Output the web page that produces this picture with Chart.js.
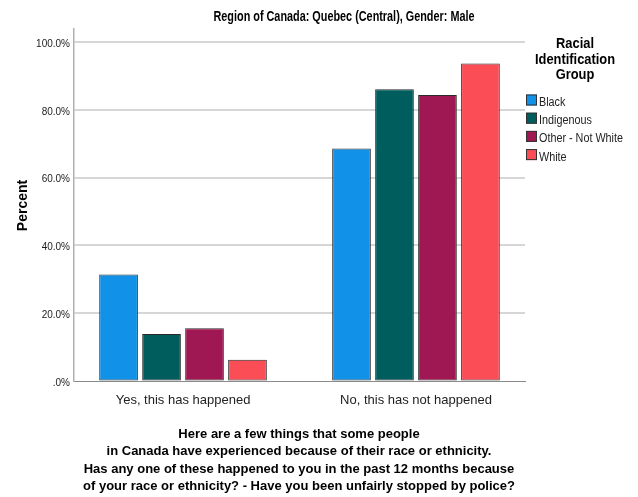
<!DOCTYPE html>
<html>
<head>
<meta charset="utf-8">
<script src="https://cdn.jsdelivr.net/npm/chart.js@4.4.1/dist/chart.umd.min.js"></script>
<style>
  html, body { margin: 0; padding: 0; background: #fff; }
  #wrap { width: 638px; height: 497px; }
</style>
</head>
<body>
<div id="wrap"><canvas id="policeChart" width="638" height="497"></canvas></div>
<script>
// Values (percent within each group)
const categories = ['Yes, this has happened', 'No, this has not happened'];
const groups = ['Black', 'Indigenous', 'Other - Not White', 'White'];
const blackPct = [31.4, 68.6];
const indigenousPct = [13.9, 86.1];
const otherPct = [15.6, 84.4];
const whitePct = [6.3, 93.7];
const yTickValues = [0, 20, 40, 60, 80, 100];
const yTickLabels = ['.0%', '20.0%', '40.0%', '60.0%', '80.0%', '100.0%'];

const groupColors = ['#1192e8', '#005d5d', '#9f1853', '#fa4d56'];
const chartTitle = 'Region of Canada: Quebec (Central), Gender: Male';
const yTitle = 'Percent';
const legendTitleLines = ['Racial', 'Identification', 'Group'];
const xTitleLines = [
  'Here are a few things that some people',
  'in Canada have experienced because of their race or ethnicity.',
  'Has any one of these happened to you in the past 12 months because',
  'of your race or ethnicity? - Have you been unfairly stopped by police?'
];

const FONT = '"Liberation Sans", Arial, sans-serif';
const seriesValues = [blackPct, indigenousPct, otherPct, whitePct];

// draw text squeezed horizontally (SPSS export looks condensed)
function drawText(ctx, text, x, y, font, align, sx) {
  ctx.save();
  ctx.font = font;
  ctx.textAlign = align;
  ctx.textBaseline = 'alphabetic';
  ctx.translate(x, y);
  ctx.scale(sx, 1);
  ctx.fillText(text, 0, 0);
  ctx.restore();
}

const annotations = {
  id: 'spssText',
  afterDraw(chart) {
    const ctx = chart.ctx;
    ctx.save();
    ctx.fillStyle = '#000';

    // title
    ctx.font = 'bold 14px ' + FONT;
    ctx.textAlign = 'center';
    ctx.fillText(chartTitle, 344, 21, 261);

    // x axis title
    ctx.font = 'bold 13px ' + FONT;
    const xWidths = [242, 389, 435, 435];
    xTitleLines.forEach((line, i) => {
      ctx.fillText(line, 299, 437.7 + i * 17.4, xWidths[i]);
    });

    // y axis title
    ctx.save();
    ctx.translate(26.5, 205.5);
    ctx.rotate(-Math.PI / 2);
    ctx.font = 'bold 14px ' + FONT;
    ctx.textAlign = 'center';
    ctx.fillText(yTitle, 0, 0);
    ctx.restore();

    // legend
    legendTitleLines.forEach((line, i) => {
      drawText(ctx, line, 575, 48 + i * 15.5, 'bold 14px ' + FONT, 'center', 0.92);
    });
    groups.forEach((g, i) => {
      const top = 94.5 + i * 18.2;
      ctx.fillStyle = groupColors[i];
      ctx.fillRect(526, top, 11, 11);
      ctx.strokeStyle = '#333';
      ctx.lineWidth = 1;
      ctx.strokeRect(526.5, top + 0.5, 10, 10);
      ctx.fillStyle = '#222';
      drawText(ctx, g, 539, top + 11.5, '12px ' + FONT, 'left', 0.9);
    });
    ctx.restore();
  }
};

new Chart(document.getElementById('policeChart'), {
  type: 'bar',
  data: {
    labels: categories,
    datasets: groups.map((g, i) => ({
      label: g,
      data: seriesValues[i].map((v, j) => ({ x: j, y: v })),
      backgroundColor: groupColors[i],
      borderColor: '#2a2a2a',
      borderWidth: 1,
      borderSkipped: false,
      categoryPercentage: 0.738,
      barPercentage: 0.9
    }))
  },
  options: {
    responsive: false,
    animation: false,
    devicePixelRatio: 1,
    layout: { padding: { left: 0, top: 29, right: 113, bottom: 0 } },
    plugins: {
      legend: { display: false },
      title: { display: false },
      tooltip: { enabled: false }
    },
    scales: {
      x: {
        type: 'linear',
        min: -0.468,
        max: 1.468,
        offset: false,
        afterBuildTicks: s => { s.ticks = categories.map((c, i) => ({ value: i })); },
        afterFit: s => { s.height = 116; },
        grid: { display: false, offset: false },
        border: { color: '#8a8a8a', width: 1 },
        ticks: {
          callback: v => categories[v],
          color: '#222',
          font: { family: FONT, size: 13 },
          padding: 4,
          maxRotation: 0,
          autoSkip: false
        }
      },
      y: {
        min: 0,
        max: 103.9,
        afterBuildTicks: s => { s.ticks = yTickValues.map(v => ({ value: v })); },
        afterFit: s => { s.width = 74; },
        grid: {
          drawTicks: false,
          color: c => (c.tick && c.tick.value === 0 ? '#8a8a8a' : '#d6d6d6'),
          lineWidth: c => (c.tick && c.tick.value === 0 ? 1 : 2)
        },
        border: { color: '#b0b0b0', width: 1.5 },
        ticks: {
          callback: (v, i) => yTickLabels[yTickValues.indexOf(v)],
          color: '#222',
          font: { family: FONT, size: 10 },
          padding: 4,
          labelOffset: 2
        }
      }
    }
  },
  plugins: [annotations]
});
</script>
</body>
</html>
